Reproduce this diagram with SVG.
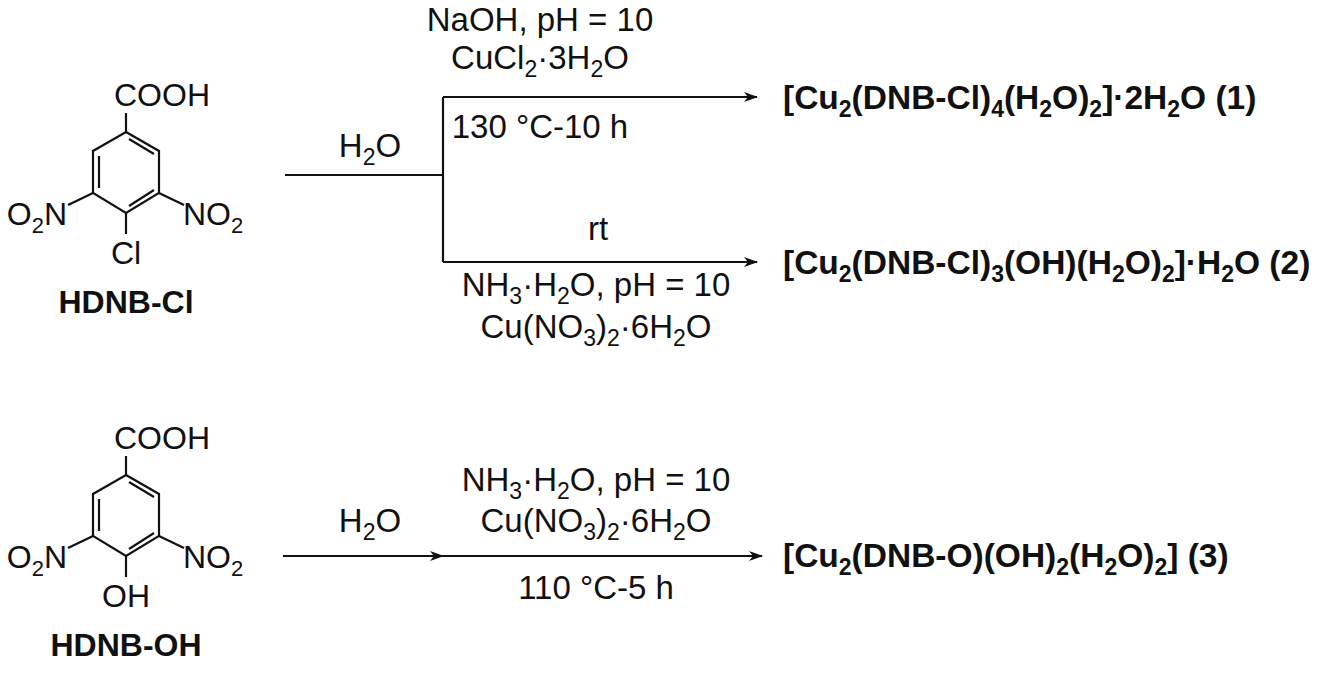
<svg xmlns="http://www.w3.org/2000/svg" width="1328" height="676" viewBox="0 0 1328 676">
<style>
text{font-family:"Liberation Sans",Arial,sans-serif;font-size:33px;fill:#111}
.b{font-weight:bold}
.m{text-anchor:middle}
.e{text-anchor:end}
.s{font-size:23px}
.mol{font-size:32px}
.mol .s{font-size:22px}
.pr{font-size:33.5px}
line,polyline,polygon{stroke:#111;stroke-width:2.2;fill:none}
</style>
<defs>
<marker id="ah" markerWidth="14" markerHeight="10" refX="13" refY="5" orient="auto" markerUnits="userSpaceOnUse"><path d="M0,0 L14,5 L0,10 L4,5 Z" fill="#111"/></marker>
<g id="ring">
<polygon points="126,132 159,151 159,193 126,213 93,193 93,151"/>
<line x1="99" y1="156" x2="99" y2="188"/>
<line x1="129" y1="139" x2="154" y2="154"/>
<line x1="154" y1="190" x2="129" y2="206"/>
<line x1="126" y1="132" x2="126" y2="113"/>
<line x1="93" y1="193" x2="68" y2="205"/>
<line x1="159" y1="193" x2="184" y2="205"/>
<line x1="126" y1="213" x2="126" y2="234"/>
<text x="114" y="106" class="mol">COOH</text>
<text x="67" y="225" class="mol e">O<tspan class="s" dy="8">2</tspan><tspan dy="-8">N</tspan></text>
<text x="183" y="225" class="mol">NO<tspan class="s" dy="8">2</tspan></text>
</g>
</defs>
<g id="hdnb-cl">
<use href="#ring"/>
<text x="126" y="264" class="m mol">Cl</text>
<text x="126" y="313" class="m b mol">HDNB-Cl</text>
</g>
<g id="hdnb-oh" transform="translate(0,343)">
<use href="#ring"/>
<text x="126" y="264" class="m mol">OH</text>
<text x="126" y="313" class="m b mol">HDNB-OH</text>
</g>
<g id="connectors">
<line x1="285" y1="175" x2="443" y2="175"/>
<line x1="443" y1="97" x2="443" y2="262"/>
<line x1="443" y1="97" x2="757" y2="97" marker-end="url(#ah)"/>
<line x1="443" y1="262" x2="757" y2="262" marker-end="url(#ah)"/>
<line x1="283" y1="556" x2="443" y2="556" marker-end="url(#ah)"/>
<line x1="440" y1="556" x2="762" y2="556" marker-end="url(#ah)"/>
</g>
<g id="labels">
<text x="370" y="157" class="m">H<tspan class="s" dy="8">2</tspan><tspan dy="-8">O</tspan></text>
<text x="540" y="31" class="m">NaOH, pH = 10</text>
<text x="540" y="69" class="m">CuCl<tspan class="s" dy="8">2</tspan><tspan dy="-8">·3H</tspan><tspan class="s" dy="8">2</tspan><tspan dy="-8">O</tspan></text>
<text x="540" y="138" class="m">130 °C-10 h</text>
<text x="598" y="240" class="m">rt</text>
<text x="596" y="296" class="m">NH<tspan class="s" dy="8">3</tspan><tspan dy="-8">·H</tspan><tspan class="s" dy="8">2</tspan><tspan dy="-8">O, pH = 10</tspan></text>
<text x="596" y="338" class="m">Cu(NO<tspan class="s" dy="8">3</tspan><tspan dy="-8">)</tspan><tspan class="s" dy="8">2</tspan><tspan dy="-8">·6H</tspan><tspan class="s" dy="8">2</tspan><tspan dy="-8">O</tspan></text>
<text x="370" y="532" class="m">H<tspan class="s" dy="8">2</tspan><tspan dy="-8">O</tspan></text>
<text x="596" y="491" class="m">NH<tspan class="s" dy="8">3</tspan><tspan dy="-8">·H</tspan><tspan class="s" dy="8">2</tspan><tspan dy="-8">O, pH = 10</tspan></text>
<text x="596" y="532" class="m">Cu(NO<tspan class="s" dy="8">3</tspan><tspan dy="-8">)</tspan><tspan class="s" dy="8">2</tspan><tspan dy="-8">·6H</tspan><tspan class="s" dy="8">2</tspan><tspan dy="-8">O</tspan></text>
<text x="596" y="599" class="m">110 °C-5 h</text>
</g>
<g id="p1"><text x="783" y="109" class="b pr">[Cu<tspan class="s" dy="8">2</tspan><tspan dy="-8">(DNB-Cl)</tspan><tspan class="s" dy="8">4</tspan><tspan dy="-8">(H</tspan><tspan class="s" dy="8">2</tspan><tspan dy="-8">O)</tspan><tspan class="s" dy="8">2</tspan><tspan dy="-8">]·2H</tspan><tspan class="s" dy="8">2</tspan><tspan dy="-8">O (1)</tspan></text></g>
<g id="p2"><text x="783" y="274" class="b pr">[Cu<tspan class="s" dy="8">2</tspan><tspan dy="-8">(DNB-Cl)</tspan><tspan class="s" dy="8">3</tspan><tspan dy="-8">(OH)(H</tspan><tspan class="s" dy="8">2</tspan><tspan dy="-8">O)</tspan><tspan class="s" dy="8">2</tspan><tspan dy="-8">]·H</tspan><tspan class="s" dy="8">2</tspan><tspan dy="-8">O (2)</tspan></text></g>
<g id="p3"><text x="783" y="567" class="b pr">[Cu<tspan class="s" dy="8">2</tspan><tspan dy="-8">(DNB-O)(OH)</tspan><tspan class="s" dy="8">2</tspan><tspan dy="-8">(H</tspan><tspan class="s" dy="8">2</tspan><tspan dy="-8">O)</tspan><tspan class="s" dy="8">2</tspan><tspan dy="-8">] (3)</tspan></text></g>
</svg>
